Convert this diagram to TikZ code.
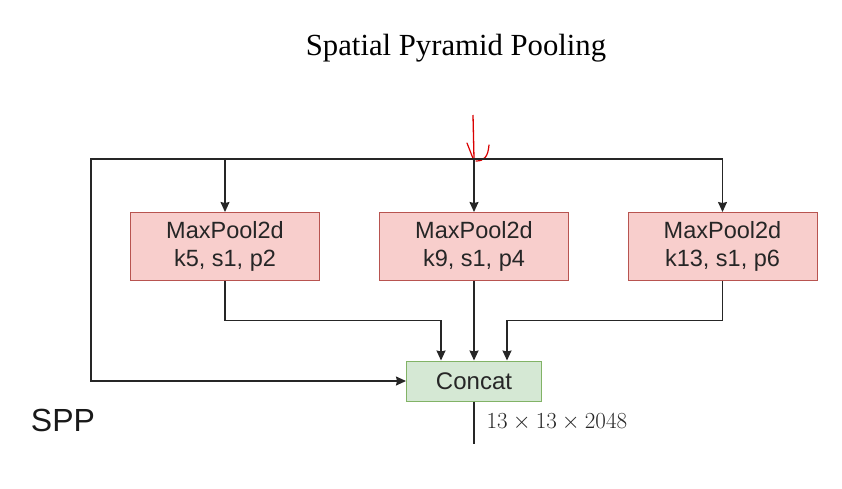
\documentclass[tikz,border=0pt]{standalone}
\usepackage{fix-cm}
\usepackage[no-math]{fontspec}
\setmainfont{Liberation Serif}
\setsansfont{Liberation Sans}
\usetikzlibrary{arrows.meta}

\definecolor{poolfill}{HTML}{F8CECC}
\definecolor{pooldraw}{HTML}{B85450}
\definecolor{catfill}{HTML}{D5E8D4}
\definecolor{catdraw}{HTML}{82B366}

\begin{document}
\begin{tikzpicture}[x=1pt,y=-1pt,
    pool/.style={draw=pooldraw,fill=poolfill,line width=1pt,minimum width=189pt,minimum height=68pt,
      align=center,inner sep=0pt,font=\sffamily\fontsize{23.5}{28}\selectfont,text=black!85},
    cat/.style={draw=catdraw,fill=catfill,line width=1pt,minimum width=135pt,minimum height=40pt,
      inner sep=0pt,font=\sffamily\fontsize{24}{28}\selectfont,text=black!85},
    link/.style={line width=1.3pt,draw=black!85},
    arrow/.style={link,-{Stealth[length=10pt,width=9pt,inset=1pt]}}]
        \useasboundingbox (0,0) rectangle (842,488);

        \node[font=\fontsize{30.7}{34}\selectfont] (title) at (456,48) {Spatial Pyramid Pooling};

        \node[pool] (pool1) at (225,246.5) {MaxPool2d\\k5, s1, p2};
        \node[pool] (pool2) at (474,246.5) {MaxPool2d\\k9, s1, p4};
        \node[pool] (pool3) at (722.5,246.5) {MaxPool2d\\k13, s1, p6};
        \node[cat] (concat) at (474,381) {Concat};

        \node[font=\sffamily\fontsize{32}{36}\selectfont,text=black!90] (spp) at (63,420) {SPP};
        \node[anchor=west,font=\fontsize{23}{27}\selectfont,text=black!85] (size) at (483,422) {$13\times13\times2048$};

        \coordinate (in) at (473,115);
        \coordinate (split) at (474,159);
        \coordinate (left) at (91,159);

        % input, marked in red
        \draw[line width=1.3pt,red!85!black] (in) -- (split);
        \draw[line width=1.2pt,red!85!black,line cap=round] (467,143) -- (474,161);
        \draw[line width=1.2pt,red!85!black,line cap=round] (489,145) .. controls (488,157) and (484,161) .. (476,161);

        % branches
        \draw[arrow] (split) -| (pool1.north);
        \draw[arrow] (split) -- (pool2.north);
        \draw[arrow] (split) -| (pool3.north);
        \draw[arrow] (split) -- (left) |- (concat.west);

        \draw[arrow] (pool1.south) |- ([xshift=-33pt,yshift=40pt]concat.north) -- ([xshift=-33pt]concat.north);
        \draw[arrow] (pool2.south) -- (concat.north);
        \draw[arrow] (pool3.south) |- ([xshift=33pt,yshift=40pt]concat.north) -- ([xshift=33pt]concat.north);

        \draw[link] (concat.south) -- ++(0,42) coordinate (out);
      \end{tikzpicture}
\end{document}
